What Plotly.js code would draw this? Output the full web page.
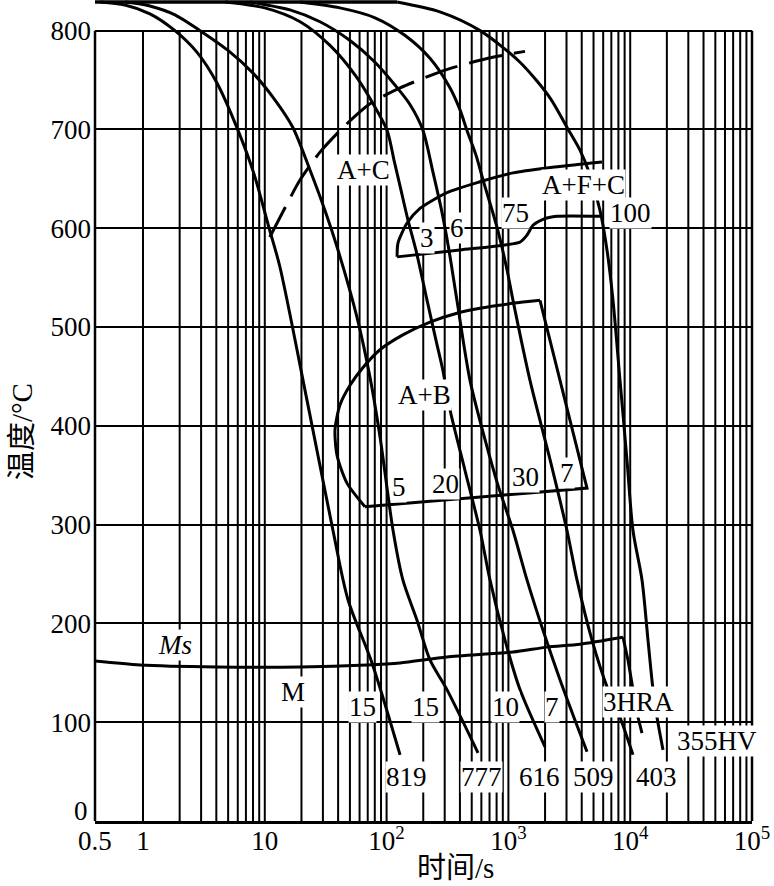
<!DOCTYPE html>
<html><head><meta charset="utf-8">
<script src="https://cdn.plot.ly/plotly-3.0.1.min.js"></script>
<style>body{margin:0;background:#fff}</style>
</head><body>
<div id="chart" style="width:774px;height:886px"></div>
<script>
// ---- data (time in s, temperature in °C) ----
const austenitizeTimes = [0.39, 122];
const austenitizeTemps = [829, 829];

const c1Times = [0.444,0.711,1.14,1.83,2.78,4.05,6.03,8.15,10.8,13.3,22.2,36.3,48.2,75.9,129];
const c1Temps = [829,826,817,800,778,747,699,655,601,561,426,294,224,160,67];

const c2Times = [0.711,1.14,1.83,2.94,4.99,8.00,12.1,17.0,23.5,31.2,39.9,57.1,73.1,88.3,113,136,178,227,313,563];
const c2Temps = [829,825,816,800,780,757,730,702,659,618,578,510,449,389,294,244,203,163,133,69];

const c3Times = [4.71,10.0,19.5,34.3,55.2,76.7,101,115,131,150,174,215,254,290,332,440,585,706,938,1245,1998];
const c3Temps = [829,823,809,785,755,727,699,669,639,608,578,527,487,456,416,355,294,244,183,133,75];

const c4Times = [7.56,16.1,28.4,50.1,80.3,117,156,199,240,285,325,378,484,643,821,1091,1421,1924,2652,3523,4419];
const c4Temps = [829,821,809,790,768,745,725,699,657,616,578,527,446,386,340,294,244,193,143,102,70];

const c5Times = [19.5,41.4,80.3,142,227,332,400,457,542,619,806,974,1091,1504,2154,3028,3658,4858,6573,8246,10540];
const c5Temps = [829,823,813,795,772,742,720,699,674,649,601,558,527,446,370,294,244,183,133,105,67];

const c6Times = [122,274,585,1245,2195,3028,3871,4677,5650,6449,7224,8246,9413,10540,12500,14000,15390,16600,18590];
const c6Temps = [829,819,800,768,732,702,679,654,618,578,527,446,365,294,244,183,133,105,72];

const msTimes = [0.403,0.945,4.05,19.5,69.0,129,313,1091,2075,3871,8729];
const msTemps = [162,158,156,156,158,160,166,171,176,179,186];
const msDropTimes = [8729,9592,10540,11590,12500];
const msDropTemps = [186,163,133,105,89];

const carbideTimes = [11.0,14.7,19.5,28.4,45.6,73.1,129,302,680,1369];
const carbideTemps = [591,621,649,677,704,726,742,760,772,779];

const ferriteStartTimes = [122,124,147,188,313,585,1091,2075,5868];
const ferriteStartTemps = [571,585,605,620,636,647,656,661,667];
const ferriteEndTimes = [122,400,1245,1421,1592,1924,2506,5650];
const ferriteEndTemps = [571,578,586,593,603,609,612,612];

const bainiteStartTimes = [66.5,47.3,39.2,37.7,41.4,50.1,64.0,88.3,136,227,378,585,1091,1817];
const bainiteStartTemps = [318,342,370,396,421,441,459,477,492,505,514,519,524,527];
const bainiteEdgeTimes = [66.5,4419,1817];
const bainiteEdgeTemps = [318,337,527];

// labels
const labelTexts = ['A+C','A+F+C','3','6','75','100','A+B','5','20','30','7','<i>Ms</i>','M','15','15','10','7','3HRA','819','777','616','509','403','355HV'];
const labelTimes = [65.2,4098,215,378,1154,9963,203,126,307,1369,3028,1.83,17.0,64.0,207,938,2280,11590,147,596,1817,4950,16290,51590];
const labelTemps = [659,644,590,600,615,615,431,338,341,348,352,178,131,115,115,115,115,120,45,45,45,45,45,81];

// axis ticks and titles
const tickTimes = [0.4036,1,10,100,1000,10000,100000];
const tickLabels = ['0.5','1','10','10<sup>2</sup>','10<sup>3</sup>','10<sup>4</sup>','10<sup>5</sup>'];
const tempTicks = [0,100,200,300,400,500,600,700,800];
const tempTickLabels = ['','100','200','300','400','500','600','700','800'];
const zeroLabel = '0';
const xTitle = '时间/s';
const yTitle = '温度/°C';
const gridMultipliers = [1,2,3,4,5,6,7,8,9];
const gridDecades = [1,10,100,1000,10000];

// ---- build ----
const FONT = "Liberation Serif, Times New Roman, Noto Sans CJK SC, serif";
const INK = '#000';
const gx = [], gy = [];
gridDecades.forEach(d => gridMultipliers.forEach(m => { gx.push(m*d, m*d, null); gy.push(0, 800, null); }));
gx.push(100000, 100000, null); gy.push(0, 800, null);

function line(x, y, opts) {
  opts = opts || {};
  return {type:'scatter', mode:'lines', x:x, y:y, hoverinfo:'skip',
    line:Object.assign({color:INK, width:3, shape:'linear'}, opts)};
}
const traces = [
  line(gx, gy, {width:2}),
  line(austenitizeTimes, austenitizeTemps, {width:3.5}),
  line(c1Times, c1Temps, {shape:'spline', smoothing:0.8}),
  line(c2Times, c2Temps, {shape:'spline', smoothing:0.8}),
  line(c3Times, c3Temps, {shape:'spline', smoothing:0.8}),
  line(c4Times, c4Temps, {shape:'spline', smoothing:0.8}),
  line(c5Times, c5Temps, {shape:'spline', smoothing:0.8}),
  line(c6Times, c6Temps, {shape:'spline', smoothing:0.8}),
  line(msTimes, msTemps, {shape:'spline', smoothing:0.7}),
  line(msDropTimes, msDropTemps),
  line(carbideTimes, carbideTemps, {shape:'spline', smoothing:0.7, dash:'34px,12px'}),
  line(ferriteStartTimes, ferriteStartTemps, {shape:'spline', smoothing:0.7}),
  line(ferriteEndTimes, ferriteEndTemps, {shape:'spline', smoothing:0.6}),
  line(bainiteStartTimes, bainiteStartTemps, {shape:'spline', smoothing:0.7}),
  line(bainiteEdgeTimes, bainiteEdgeTemps)
];

const annotations = labelTexts.map((t, i) => ({
  x: Math.log10(labelTimes[i]), y: labelTemps[i], xref:'x', yref:'y', text:t,
  showarrow:false, bgcolor:'#fff', borderpad:0,
  font:{family:FONT, size:27, color:INK}
}));
annotations.push(
  {x:-0.0076, y:10, xref:'paper', yref:'y', xanchor:'right', yanchor:'middle', text:zeroLabel,
   showarrow:false, font:{family:FONT, size:27, color:INK}},
  {x:0.548, y:-0.0572, xref:'paper', yref:'paper', xanchor:'center', yanchor:'middle', text:xTitle,
   showarrow:false, font:{family:FONT, size:29, color:INK}},
  {x:-0.111, y:0.4738, xref:'paper', yref:'paper', xanchor:'center', yanchor:'middle', text:yTitle,
   textangle:-90, showarrow:false, font:{family:FONT, size:29, color:INK}}
);

const layout = {
  width:774, height:886,
  margin:{l:95, r:22, t:0, b:65},
  paper_bgcolor:'#fff', plot_bgcolor:'#fff',
  showlegend:false,
  font:{family:FONT, color:INK},
  xaxis:{type:'log', range:[-0.394, 5], showgrid:false, zeroline:false,
    showline:true, linecolor:INK, linewidth:2.5, ticks:'',
    tickvals:tickTimes, ticktext:tickLabels, ticklabelstandoff:-6,
    tickfont:{family:FONT, size:27, color:INK}, automargin:false},
  yaxis:{range:[0, 831], tickvals:tempTicks, ticktext:tempTickLabels,
    showgrid:true, gridcolor:INK, gridwidth:2,
    zeroline:false, showline:false, ticks:'', ticklabelstandoff:3,
    tickfont:{family:FONT, size:27, color:INK}, automargin:false},
  shapes:[
    {type:'line', xref:'paper', yref:'y', x0:0, x1:0, y0:0, y1:800, line:{color:INK, width:2.5}},
    {type:'line', xref:'paper', yref:'y', x0:1, x1:1, y0:0, y1:800, line:{color:INK, width:2.5}}
  ],
  annotations:annotations
};
Plotly.newPlot('chart', traces, layout, {staticPlot:true});
</script>
</body></html>
